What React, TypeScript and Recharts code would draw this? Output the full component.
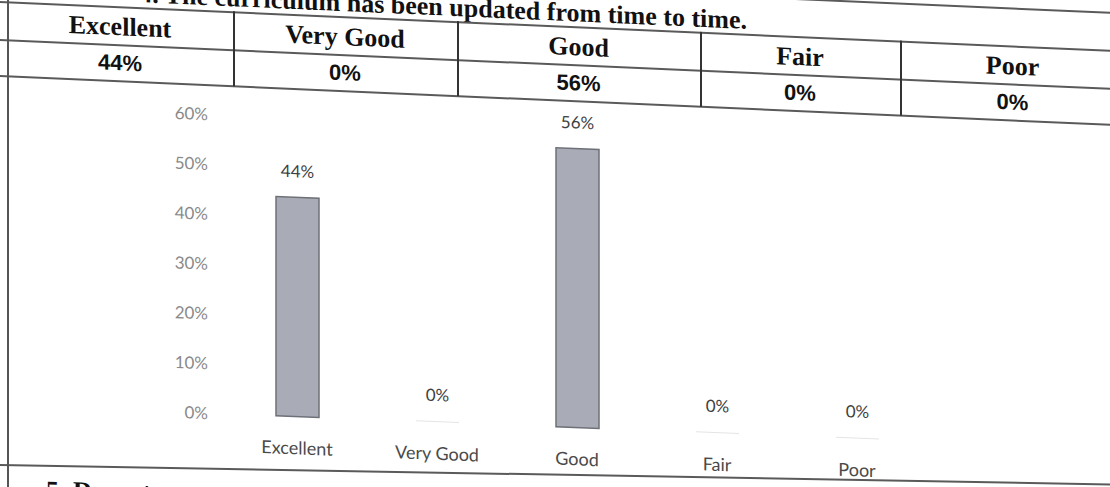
import React from 'react';
import { BarChart, Bar, XAxis, YAxis, LabelList, Cell } from 'recharts';

const categories = ['Excellent', 'Very Good', 'Good', 'Fair', 'Poor'];
const percentages = [44, 0, 56, 0, 0];
const yTicks = [0, 10, 20, 30, 40, 50, 60];
const titleText = '4.   The curriculum has been updated from time to time.';
const nextQuestionNumber = '5.';
const nextQuestionText = 'Department';

const data = categories.map((c, i) => ({ name: c, value: percentages[i] }));

const colEdges = [7, 233, 457, 700, 900, 1125];
const serif = '"Liberation Serif", "Times New Roman", serif';
const sans = '"Liberation Sans", Arial, sans-serif';
const chartFont = 'Lato, "Open Sans", sans-serif';

const hLine = (y: number, key: string) => (
  <div key={key} style={{ position: 'absolute', left: 0, top: y, width: 1200, height: 1.5, background: '#5a5a5a' }} />
);

export default function App() {
  return (
    <div style={{ position: 'absolute', left: 0, top: 0, width: 1110, height: 487, overflow: 'hidden', background: '#ffffff' }}>
      {/* table */}
      <div style={{ position: 'absolute', left: 0, top: 0, width: 1110, height: 120, transform: 'skewY(2.52deg)', transformOrigin: '0 0' }}>
        {hLine(-37, 'l0')}
        <div style={{ position: 'absolute', left: 0, top: -28, width: 747, height: 32, lineHeight: '32px', textAlign: 'right', whiteSpace: 'nowrap', fontFamily: serif, fontWeight: 'bold', fontSize: 26, color: '#111' }}>
          {titleText}
        </div>
        {hLine(1, 'l1')}
        {hLine(39, 'l2')}
        {hLine(75, 'l3')}
        {colEdges.slice(1, 5).map((x, i) => (
          <div key={'v' + i} style={{ position: 'absolute', left: x, top: 1, width: 1.5, height: 75, background: '#333' }} />
        ))}
        {categories.map((c, i) => (
          <div key={'h' + i} style={{ position: 'absolute', left: colEdges[i], top: 3, width: colEdges[i + 1] - colEdges[i], height: 37, lineHeight: '37px', textAlign: 'center', fontFamily: serif, fontWeight: 'bold', fontSize: 26, color: '#111', whiteSpace: 'nowrap' }}>
            {c}
          </div>
        ))}
        {percentages.map((v, i) => (
          <div key={'p' + i} style={{ position: 'absolute', left: colEdges[i], top: 40, width: colEdges[i + 1] - colEdges[i], height: 35, lineHeight: '35px', textAlign: 'center', fontFamily: sans, fontWeight: 'bold', fontSize: 22, color: '#111' }}>
            {v + '%'}
          </div>
        ))}
      </div>

      {/* chart */}
      <div style={{ position: 'absolute', left: 0, top: 0, width: 1110, height: 487, transform: 'skewY(2.25deg)', transformOrigin: '0 0' }}>
        <BarChart width={1110} height={487} data={data} margin={{ top: 106, right: 183, bottom: 52, left: 167 }}>
          <XAxis
            dataKey="name"
            axisLine={false}
            tickLine={false}
            interval={0}
            tickMargin={19}
            height={30}
            tick={{ fill: '#4a4a4a', fontSize: 18, fontFamily: chartFont }}
          />
          <YAxis
            width={60}
            domain={[0, 60]}
            ticks={yTicks}
            axisLine={false}
            tickLine={false}
            tickMargin={13}
            tickFormatter={(v: number) => v + '%'}
            tick={{ fill: '#8a8a8a', fontSize: 17, fontFamily: chartFont }}
          />
          <Bar dataKey="value" barSize={43} minPointSize={1} strokeWidth={1.5} isAnimationActive={false}>
            {data.map((d, i) => (
              <Cell
                key={'c' + i}
                fill={d.value > 0 ? '#a9acb6' : '#e4e4e4'}
                stroke={d.value > 0 ? '#6e7077' : 'none'}
              />
            ))}
            <LabelList
              dataKey="value"
              position="top"
              offset={20}
              formatter={(v: number) => v + '%'}
              style={{ fill: '#3f3f3f', fontSize: 17, fontFamily: chartFont }}
            />
          </Bar>
        </BarChart>
      </div>

      {/* bottom of page */}
      <div style={{ position: 'absolute', left: 0, top: 0, width: 1110, height: 487, transform: 'skewY(1deg)', transformOrigin: '0 0' }}>
        {hLine(464, 'lb')}
        <div style={{ position: 'absolute', left: 46, top: 475, fontFamily: serif, fontWeight: 'bold', fontSize: 26, color: '#111', whiteSpace: 'nowrap' }}>
          {nextQuestionNumber}
        </div>
        <div style={{ position: 'absolute', left: 73, top: 475, fontFamily: serif, fontWeight: 'bold', fontSize: 26, color: '#111', whiteSpace: 'nowrap' }}>
          {nextQuestionText}
        </div>
      </div>

      {/* left border */}
      <div style={{ position: 'absolute', left: 7, top: 0, width: 1.5, height: 487, background: '#555' }} />
    </div>
  );
}
